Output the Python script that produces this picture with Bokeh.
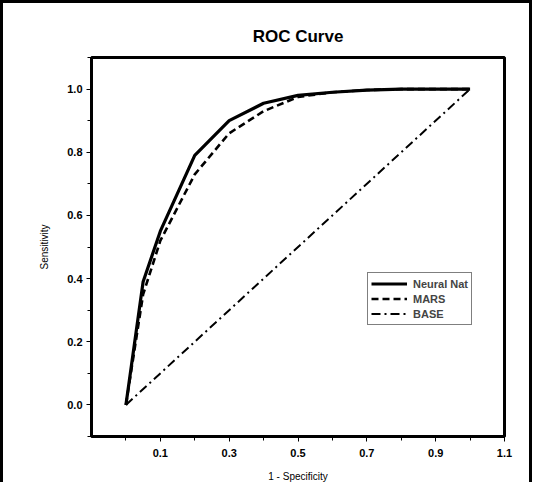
from bokeh.plotting import figure
from bokeh.models import FixedTicker, PrintfTickFormatter, Legend, LegendItem
from bokeh.embed import file_html
from bokeh.resources import INLINE

# data
fpr_nn = [0.0, 0.05, 0.1, 0.2, 0.3, 0.4, 0.5, 0.6, 0.7, 0.8, 0.9, 1.0]
tpr_nn = [0.0, 0.39, 0.55, 0.79, 0.90, 0.955, 0.98, 0.99, 0.997, 1.0, 1.0, 1.0]
fpr_mars = [0.0, 0.05, 0.1, 0.2, 0.3, 0.4, 0.5, 0.6, 0.7, 0.8, 0.9, 1.0]
tpr_mars = [0.0, 0.35, 0.52, 0.73, 0.86, 0.93, 0.975, 0.99, 0.997, 1.0, 1.0, 1.0]
fpr_base = [0.0, 1.0]
tpr_base = [0.0, 1.0]
x_major = [0.1, 0.3, 0.5, 0.7, 0.9, 1.1]
x_minor = [0.0, 0.2, 0.4, 0.6, 0.8, 1.0]
y_major = [0.0, 0.2, 0.4, 0.6, 0.8, 1.0]
y_minor = [-0.1, 0.1, 0.3, 0.5, 0.7, 0.9, 1.1]

FONT = "Liberation Sans"

p = figure(width=532, height=482, output_backend="svg", toolbar_location=None,
           x_range=(-0.1, 1.1), y_range=(-0.1, 1.1),
           title="ROC Curve", min_border_left=88, min_border_right=31,
           min_border_top=54, min_border_bottom=49)
p.styles = {"border-left": "3px solid black", "border-top": "3px solid black",
            "border-right": "3px solid black"}
p.background_fill_color = "white"
p.border_fill_color = "white"
p.outline_line_color = "black"
p.outline_line_width = 3
p.grid.visible = False

p.title.align = "center"
p.title.text_font = FONT
p.title.text_font_size = "17px"
p.title.text_font_style = "bold"
p.title.text_color = "black"
p.title.standoff = 23

p.xaxis.ticker = FixedTicker(ticks=x_major, minor_ticks=x_minor)
p.yaxis.ticker = FixedTicker(ticks=y_major, minor_ticks=y_minor)
for ax in (p.xaxis[0], p.yaxis[0]):
    ax.formatter = PrintfTickFormatter(format="%.1f")
    ax.axis_line_color = None
    ax.major_tick_line_color = "black"
    ax.minor_tick_line_color = "black"
    ax.major_tick_in = 0
    ax.major_tick_out = 5
    ax.minor_tick_in = 0
    ax.minor_tick_out = 4
    ax.major_label_text_font = FONT
    ax.major_label_text_font_size = "11px"
    ax.major_label_text_font_style = "bold"
    ax.major_label_text_color = "black"
    ax.axis_label_text_font = FONT
    ax.axis_label_text_font_size = "10px"
    ax.axis_label_text_font_style = "normal"
    ax.axis_label_text_color = "black"
p.xaxis.axis_label = "1 - Specificity"
p.yaxis.axis_label = "Sensitivity"
p.xaxis.major_label_standoff = 7
p.xaxis.axis_label_standoff = 11
p.yaxis.major_label_standoff = 4
p.yaxis.axis_label_standoff = 14

r1 = p.line(fpr_nn, tpr_nn, line_color="black", line_width=3.2)
r2 = p.line(fpr_mars, tpr_mars, line_color="black", line_width=2.6, line_dash="7 4")
r3 = p.line(fpr_base, tpr_base, line_color="black", line_width=2, line_dash="9 4 2 4")

legend = Legend(items=[LegendItem(label="Neural Nat", renderers=[r1]),
                       LegendItem(label="MARS", renderers=[r2]),
                       LegendItem(label="BASE", renderers=[r3])],
                location=(276, 111), label_text_font=FONT, label_text_font_size="11px",
                label_text_font_style="bold",
                border_line_color="black", border_line_width=1.5, padding=3, spacing=0,
                glyph_width=36, glyph_height=15, label_height=15, label_standoff=6,
                margin=0, background_fill_alpha=1)
p.add_layout(legend, "center")

open("out.html", "w").write(file_html(p, INLINE))
